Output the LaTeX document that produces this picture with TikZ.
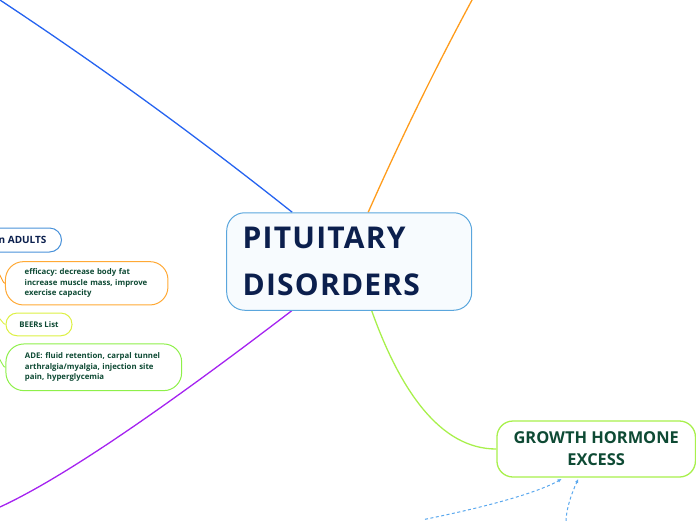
\documentclass[tikz,border=0pt]{standalone}
\usepackage{fontspec}
\setmainfont{Open Sans}
\frenchspacing
\usetikzlibrary{arrows.meta,calc,backgrounds}
\definecolor{navy}{HTML}{0B1F4D}
\definecolor{dkgreen}{HTML}{0E4A34}
\definecolor{rootborder}{HTML}{5AA6DD}
\definecolor{rootfill}{HTML}{F7FBFE}
\definecolor{lblue}{HTML}{2563F0}
\definecolor{lorange}{HTML}{FF9C1C}
\definecolor{bxorange}{HTML}{FFA935}
\definecolor{lpurple}{HTML}{A523F0}
\definecolor{lgreen}{HTML}{A8F04C}
\definecolor{bxgreen}{HTML}{8EF04A}
\definecolor{bxyellow}{HTML}{DDF043}
\definecolor{bxblue}{HTML}{4A92DA}
\definecolor{dashblue}{HTML}{5AA8EE}
\tikzset{
  mainbox/.style={draw=rootborder, fill=rootfill, line width=1pt, rounded corners=18pt,
    minimum width=245pt, minimum height=97.5pt, text width=213pt, inner xsep=16pt,
    align=left, text=navy, font=\fontsize{30}{46.5}\selectfont\bfseries\addfontfeature{LetterSpace=4}},
  ghbox/.style={draw=lgreen, fill=white, line width=1.3pt, rounded corners=16pt,
    minimum width=198.5pt, minimum height=56pt, align=center, text=dkgreen,
    font=\fontsize{16.4}{22}\selectfont\bfseries},
  leafbox/.style={fill=white, line width=1pt, text=dkgreen, align=left,
    font=\fontsize{7.8}{10.6}\selectfont\bfseries},
  branch/.style={line width=1.3pt},
  twig/.style={line width=0.9pt},
  dasharrow/.style={draw=dashblue, line width=1pt, dash pattern=on 3pt off 2.5pt,
    -{Latex[length=4pt,width=3.6pt]}}
}
\begin{document}
\begin{tikzpicture}[x=1pt,y=-1pt]
\useasboundingbox (0,0) rectangle (696,520);
\node[mainbox] (root) at (349.2,261.5) {PITUITARY\\DISORDERS};
\node[ghbox] (gh) at (596.2,449) {GROWTH HORMONE\\EXCESS};
\node[leafbox, draw=bxblue, rounded corners=12pt, anchor=east, minimum height=24pt,
  inner xsep=15pt, text=navy, font=\fontsize{10}{12}\selectfont\bfseries] (adults) at (62,240) {n ADULTS};
\node[leafbox, draw=bxorange, rounded corners=18pt, minimum width=162.5pt, minimum height=43.3pt,
  text width=124pt, inner xsep=19.25pt] (eff) at (86.7,283.3)
  {\mbox{efficacy: decrease body fat}\\\mbox{increase muscle mass, improve}\\\mbox{exercise capacity}};
\node[leafbox, draw=bxyellow, rounded corners=11pt, minimum width=66pt, minimum height=22.7pt,
  align=center] (beers) at (39,324.4) {BEERs List};
\node[leafbox, draw=bxgreen, rounded corners=18pt, minimum width=175.7pt, minimum height=46.7pt,
  text width=137.7pt, inner xsep=19pt] (ade) at (93.8,367.3)
  {\mbox{ADE: fluid retention, carpal tunnel}\\\mbox{arthralgia/myalgia, injection site}\\\mbox{pain, hyperglycemia}};
\coordinate (bfar) at (-4,-2.6);
\coordinate (ofar) at (473.1,-2);
\coordinate (pfar) at (-4,508.8);
\coordinate (efar) at (-3,270);
\coordinate (yfar) at (-3,316);
\coordinate (gfar) at (-3,355);
\coordinate (d1) at (425,519.3);
\coordinate (d2) at (566,521);
\begin{scope}[on background layer]
\draw[branch, lblue] (bfar) .. controls (100.5,66.3) and (197.8,137.2) .. ($(root.north)+(-57,0)$);
\draw[branch, lorange] ($(root.north)+(19,0)$) .. controls (401.3,137.6) and (436,66.7) .. (ofar);
\draw[branch, lpurple] ($(root.south)+(-57.5,0)$) .. controls (153.9,416) and (56.7,481.7) .. (pfar);
\draw[branch, lgreen] ($(root.south)+(22.5,0)$) .. controls (400,390) and (440,449) .. (gh.west);
\draw[twig, lorange] (efar) .. controls (2,278) and (3,283.3) .. (eff.west);
\draw[twig, bxyellow] (yfar) .. controls (2,320) and (3,324.4) .. (beers.west);
\draw[twig, bxgreen] (gfar) .. controls (2,362) and (3,367.3) .. (ade.west);
\end{scope}
\draw[dasharrow] (d1) .. controls (493.7,505.4) and (539.2,491.7) .. ($(gh.south)+(-34.5,1.3)$);
\draw[dasharrow] (d2) .. controls (566.3,509.9) and (570.4,496) .. ($(gh.south)+(-17.9,1.3)$);
\end{tikzpicture}
\end{document}
